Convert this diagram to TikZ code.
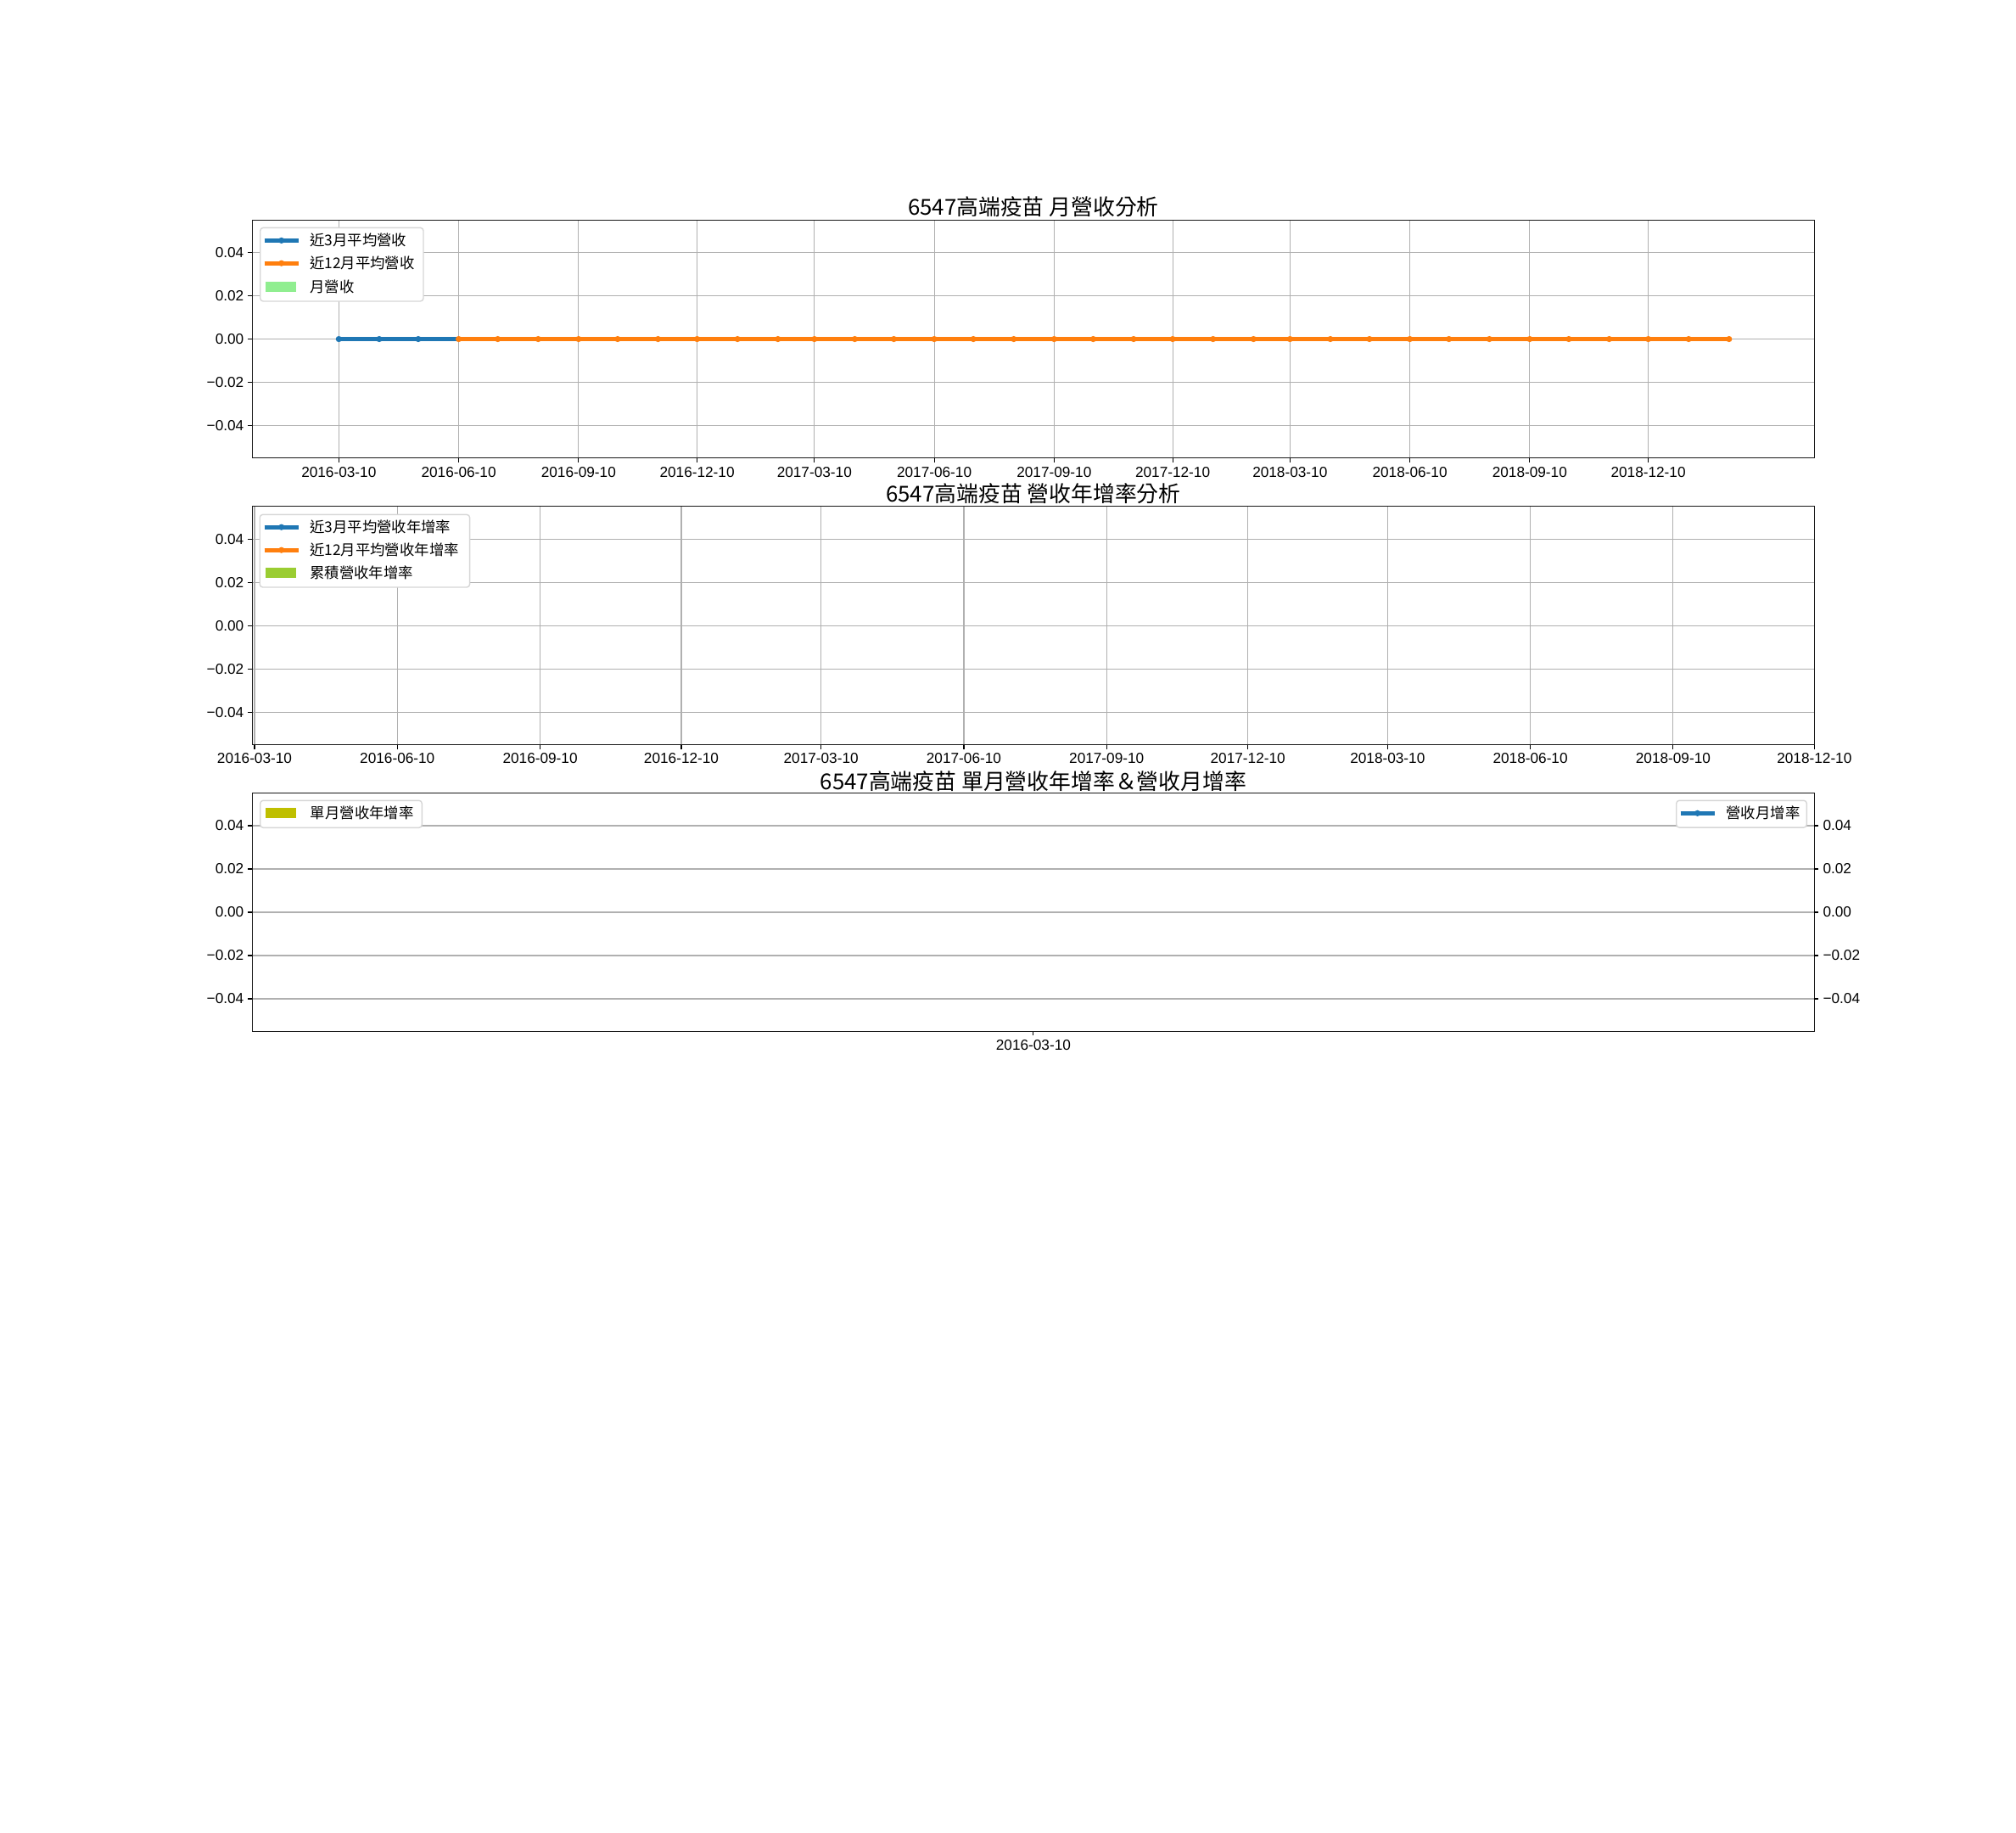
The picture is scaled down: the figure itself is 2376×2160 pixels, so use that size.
\documentclass[tikz,border=0pt]{standalone}
\usepackage{fontspec}
\setmainfont{Liberation Sans}
\newfontfamily\cjk{Noto Sans CJK TC}
\begin{document}
\begin{tikzpicture}[x=0.72bp, y=-0.72bp,
	frame/.style={draw=black!90, line width=0.8bp},
	gridline/.style={draw=gridgray, line width=0.8bp},
	tickmark/.style={draw=black, line width=0.8bp},
	ticklabel/.style={font=\fontsize{12.4bp}{14bp}\selectfont, inner sep=0pt},
	titlelabel/.style={font=\cjk\fontsize{18.6bp}{22bp}\selectfont, inner sep=0pt, anchor=base},
	legendbox/.style={draw=legendgray, fill=white, rounded corners=2.5bp, line width=1bp},
	legendlabel/.style={font=\cjk\fontsize{12.5bp}{15bp}\selectfont, inner sep=0pt, anchor=west},
	avgline/.style={line width=3.8bp},
	avgdot/.style={radius=2.6bp}
	]
	\definecolor{mplblue}{HTML}{1F77B4}
	\definecolor{mplorange}{HTML}{FF7F0E}
	\definecolor{gridgray}{HTML}{B0B0B0}
	\definecolor{legendgray}{HTML}{D6D6D6}
	\definecolor{barlight}{HTML}{90EE90}
	\definecolor{baryellowgreen}{HTML}{9ACD32}
	\definecolor{barolive}{HTML}{BFBF00}

	\useasboundingbox (0,0) rectangle (2376,2160);

	% axes 1: monthly revenue
	\foreach \v in {-102,-51,0,51,102}
		\draw[gridline] (297.3,399.55+\v) -- (2138.4,399.55+\v);
	\foreach \d/\lab [count=\i] in {0/2016-03-10,92/2016-06-10,184/2016-09-10,275/2016-12-10,365/2017-03-10,457/2017-06-10,549/2017-09-10,640/2017-12-10,730/2018-03-10,822/2018-06-10,914/2018-09-10,1005/2018-12-10} {
		\pgfmathsetmacro\xx{399.3+1.5356*\d}
		\draw[gridline] (\xx,259.2) -- (\xx,539.9);
		\draw[tickmark] (\xx,539.9) -- (\xx,544.8);
		\node[ticklabel, anchor=north] (xa\i) at (\xx,549.7) {\lab};
	}
	\draw[mplblue, avgline] (399.3,399.55) -- ({399.3+1.5356*92},399.55);
	\foreach \d in {0,31,61}
		\fill[mplblue] ({399.3+1.5356*\d},399.55) circle[avgdot];
	\draw[mplorange, avgline] ({399.3+1.5356*92},399.55) -- ({399.3+1.5356*1067},399.55);
	\foreach \d in {92,122,153,184,214,245,275,306,337,365,396,426,457,487,518,549,579,610,640,671,702,730,761,791,822,852,883,914,944,975,1005,1036,1067}
		\fill[mplorange] ({399.3+1.5356*\d},399.55) circle[avgdot];
	\draw[frame] (297.3,259.2) rectangle (2138.4,539.9);
	\node[titlelabel] (title1) at (1217.9,253.5) {6547高端疫苗 月營收分析};

	% axes 2: yearly growth
	\foreach \v in {-102,-51,0,51,102}
		\draw[gridline] (297.3,737.25+\v) -- (2138.4,737.25+\v);
	\foreach \d/\lab [count=\i] in {0/2016-03-10,92/2016-06-10,184/2016-09-10,275/2016-12-10,365/2017-03-10,457/2017-06-10,549/2017-09-10,640/2017-12-10,730/2018-03-10,822/2018-06-10,914/2018-09-10,1005/2018-12-10} {
		\pgfmathsetmacro\xx{300+1.8292*\d}
		\draw[gridline] (\xx,596.9) -- (\xx,877.6);
		\draw[tickmark] (\xx,877.6) -- (\xx,882.5);
		\node[ticklabel, anchor=north] (xb\i) at (\xx,887.4) {\lab};
	}
	\draw[frame] (297.3,596.9) rectangle (2138.4,877.6);
	\node[titlelabel] (title2) at (1217.9,591.5) {6547高端疫苗 營收年增率分析};

	% axes 3: single month and month-on-month growth
	\foreach \v in {-102,-51,0,51,102}
		\draw[gridline] (297.3,1074.95+\v) -- (2138.4,1074.95+\v);
	\draw[tickmark] (1217.9,1215.3) -- (1217.9,1220.2);
	\node[ticklabel, anchor=north] (xc1) at (1217.9,1225.1) {2016-03-10};
	\draw[frame] (297.3,934.6) rectangle (2138.4,1215.3);
	\node[titlelabel] (title3) at (1217.9,930) {6547高端疫苗 單月營收年增率＆營收月增率};

	% y ticks
	\foreach \top/\nm in {259.2/a,596.9/b,934.6/c}
		\foreach \v/\lab [count=\i] in {-102/0.04,-51/0.02,0/0.00,51/−0.02,102/−0.04} {
			\draw[tickmark] (297.3,\top+140.35+\v) -- (292.4,\top+140.35+\v);
			\node[ticklabel, anchor=east] (y\nm\i) at (287.6,\top+140.35+\v) {\lab};
		}
	\foreach \v/\lab [count=\i] in {-102/0.04,-51/0.02,0/0.00,51/−0.02,102/−0.04} {
		\draw[tickmark] (2138.4,1074.95+\v) -- (2143.3,1074.95+\v);
		\node[ticklabel, anchor=west] (yr\i) at (2148.2,1074.95+\v) {\lab};
	}

	% legends
	\draw[legendbox] (306.7,268.4) rectangle (499,355);
	\draw[mplblue, avgline] (311.7,283.4) -- (351.7,283.4);
	\fill[mplblue] (331.7,283.4) circle[avgdot];
	\node[legendlabel] (lega1) at (365,283.4) {近3月平均營收};
	\draw[mplorange, avgline] (311.7,310.2) -- (351.7,310.2);
	\fill[mplorange] (331.7,310.2) circle[avgdot];
	\node[legendlabel] (lega2) at (365,310.2) {近12月平均營收};
	\fill[barlight] (312.7,331.8) rectangle (349,343.5);
	\node[legendlabel] (lega3) at (365,337.7) {月營收};

	\draw[legendbox] (306.2,606.4) rectangle (553.6,692);
	\draw[mplblue, avgline] (311.7,621.2) -- (351.7,621.2);
	\fill[mplblue] (331.7,621.2) circle[avgdot];
	\node[legendlabel] (legb1) at (365,621.2) {近3月平均營收年增率};
	\draw[mplorange, avgline] (311.7,648.2) -- (351.7,648.2);
	\fill[mplorange] (331.7,648.2) circle[avgdot];
	\node[legendlabel] (legb2) at (365,648.2) {近12月平均營收年增率};
	\fill[baryellowgreen] (312.7,669) rectangle (349,680.7);
	\node[legendlabel] (legb3) at (365,675) {累積營收年增率};

	\draw[legendbox] (306.7,943.3) rectangle (497.3,975.3);
	\fill[barolive] (312.7,952.3) rectangle (349,963.9);
	\node[legendlabel] (legc1) at (365.7,958.1) {單月營收年增率};

	\draw[legendbox] (1975.7,943.3) rectangle (2129.3,975.1);
	\draw[mplblue, avgline] (1980.5,958.3) -- (2020.7,958.3);
	\fill[mplblue] (2000.6,958.3) circle[avgdot];
	\node[legendlabel] (legc2) at (2034.3,958.3) {營收月增率};
\end{tikzpicture}
\end{document}
